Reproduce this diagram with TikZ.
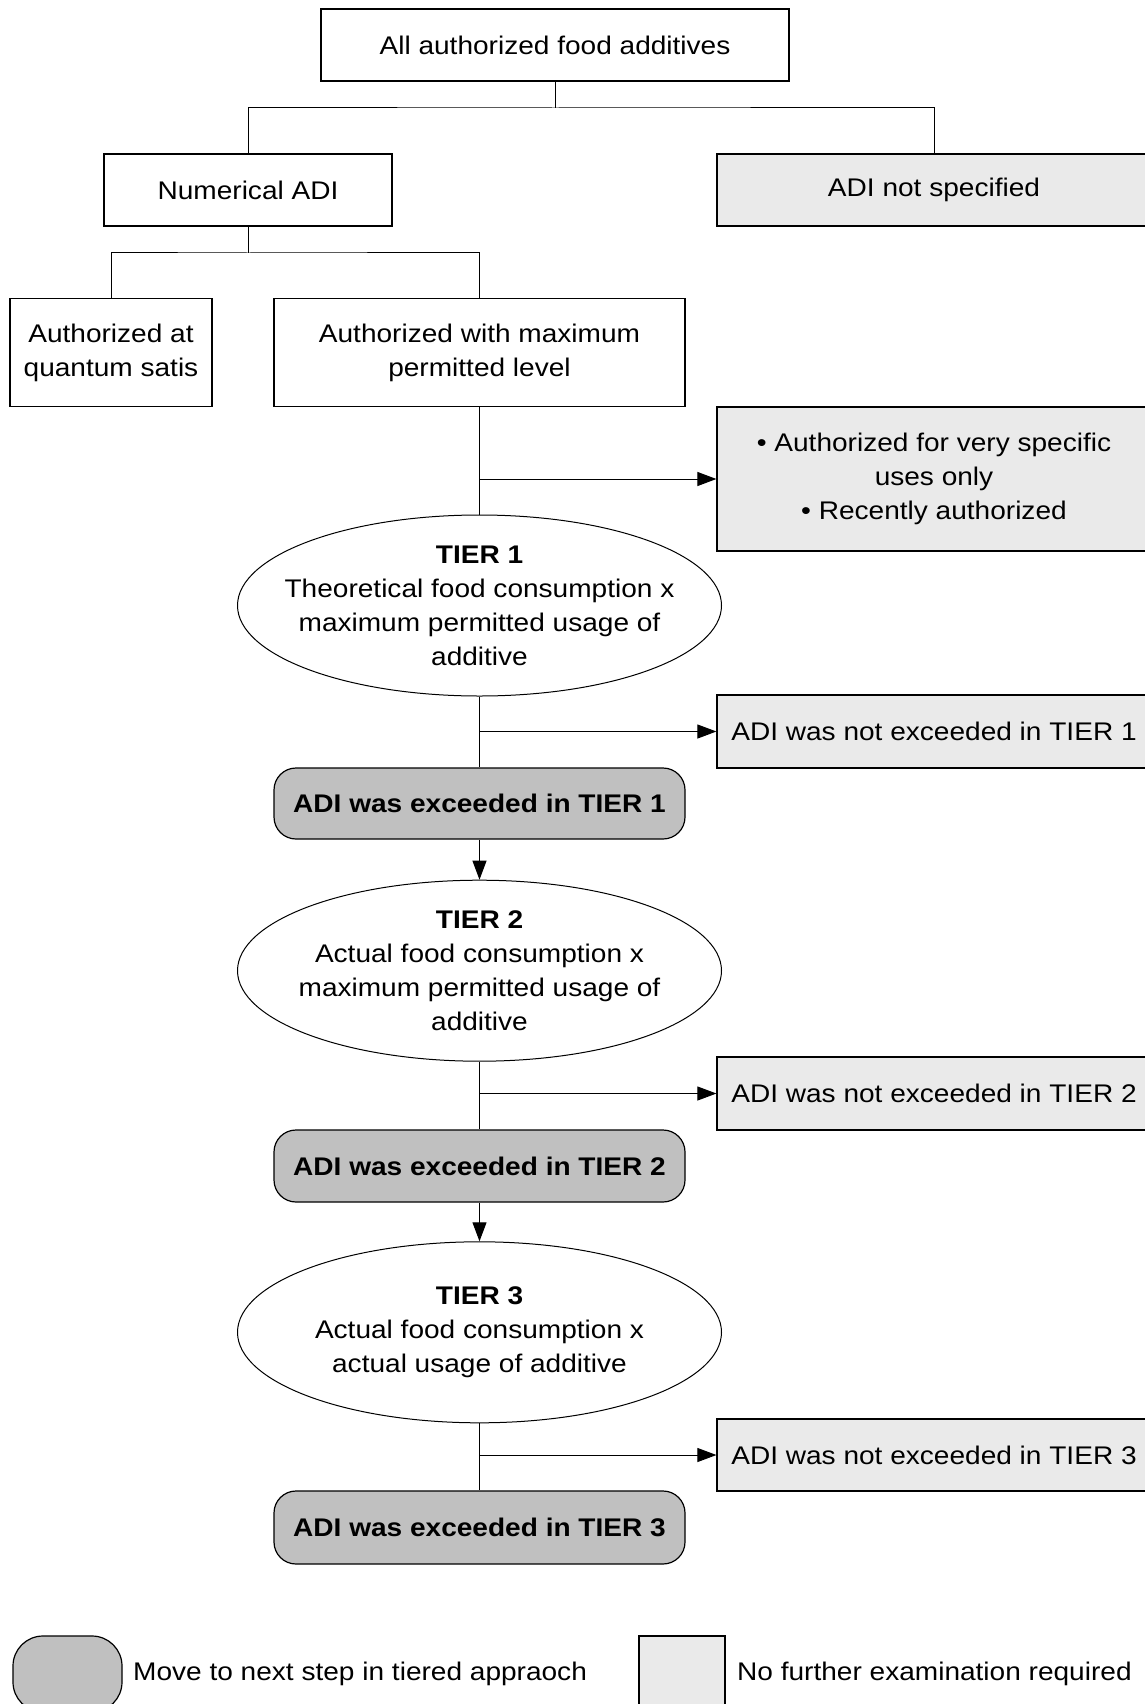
\documentclass[tikz,border=0pt]{standalone}
\usepackage{fontspec}
\setmainfont{Liberation Sans}[FakeStretch=1.1]
\usetikzlibrary{arrows.meta,shapes.geometric}
\definecolor{lightfill}{RGB}{234,234,234}
\definecolor{darkfill}{RGB}{192,192,192}
\begin{document}
\begin{tikzpicture}[x=1pt,y=-1pt,
  every node/.style={font=\fontsize{25.5}{34}\selectfont, align=center, inner sep=0pt},
  plain/.style={draw, line width=1.2pt, rectangle, fill=white},
  light/.style={draw, line width=1.2pt, rectangle, fill=lightfill},
  dark/.style={draw, line width=1.2pt, rectangle, fill=darkfill, rounded corners=22pt},
  tier/.style={draw, ellipse, line width=1pt, fill=white, minimum width=484pt, minimum height=181pt},
  conn/.style={line width=1pt},
  arr/.style={line width=1pt, -{Triangle[length=19pt,width=14pt]}}]
\useasboundingbox (0,0) rectangle (1144,1704);
\fill[white] (0,0) rectangle (1144,1704);

% nodes
\node[plain, minimum width=468pt, minimum height=72pt] (top) at (555,45) {All authorized food additives};
\node[plain, minimum width=288pt, minimum height=72pt] (num) at (248,190) {Numerical ADI};
\node[light, minimum width=434pt, minimum height=72pt] (nspec) at (934,190) {ADI not specified};
\node[plain, minimum width=202pt, minimum height=108pt] (qs) at (111,352.5) {Authorized at\\quantum satis};
\node[plain, minimum width=411pt, minimum height=108pt] (mpl) at (479.5,352.5) {Authorized with maximum\\permitted level};
\node[light, minimum width=434pt, minimum height=144pt] (spec) at (934,479) {• Authorized for very specific\\uses only\\• Recently authorized};

\node[tier] (t1) at (479.5,605.5) {};
\node (t1t) at (t1.center) {\textbf{TIER 1}\\Theoretical food consumption x\\maximum permitted usage of\\additive};
\node[light, minimum width=434pt, minimum height=73pt] (n1) at (934,731.5) {ADI was not exceeded in TIER 1};
\node[dark, minimum width=411pt, minimum height=71pt] (e1) at (479.5,803.5) {\textbf{ADI was exceeded in TIER 1}};

\node[tier] (t2) at (479.5,970.7) {};
\node (t2t) at (t2.center) {\textbf{TIER 2}\\Actual food consumption x\\maximum permitted usage of\\additive};
\node[light, minimum width=434pt, minimum height=73pt] (n2) at (934,1093.5) {ADI was not exceeded in TIER 2};
\node[dark, minimum width=411pt, minimum height=72pt] (e2) at (479.5,1166) {\textbf{ADI was exceeded in TIER 2}};

\node[tier] (t3) at (479.5,1332.3) {};
\node (t3t) at (t3.center) {\textbf{TIER 3}\\Actual food consumption x\\actual usage of additive};
\node[light, minimum width=434pt, minimum height=72pt] (n3) at (934,1455) {ADI was not exceeded in TIER 3};
\node[dark, minimum width=411pt, minimum height=73pt] (e3) at (479.5,1527.5) {\textbf{ADI was exceeded in TIER 3}};

% legend
\node[dark, rounded corners=30pt, minimum width=109pt, minimum height=76pt] (lg1) at (67.5,1674) {};
\node[anchor=west] (lg1t) at (133,1673.5) {Move to next step in tiered appraoch};
\node[light, minimum width=86pt, minimum height=76pt] (lg2) at (682,1674) {};
\node[anchor=west] (lg2t) at (737,1673.5) {No further examination required};

% connectors
\coordinate (b1) at (555,108);
\draw[conn] (top.south) -- (b1);
\draw[conn] (num.north) |- (b1) -| (nspec.north);
\coordinate (b2) at (248,253);
\draw[conn] (num.south) -- (b2);
\draw[conn] (qs.north) |- (b2) -| (mpl.north);

\draw[conn] (mpl.south) -- (t1.north);
\draw[arr] (mpl.south |- spec.west) -- (spec.west);
\draw[conn] (t1.south) -- (e1.north);
\draw[arr] (t1.south |- n1.west) -- (n1.west);
\draw[arr] (e1.south) -- (t2.north);
\draw[conn] (t2.south) -- (e2.north);
\draw[arr] (t2.south |- n2.west) -- (n2.west);
\draw[arr] (e2.south) -- (t3.north);
\draw[conn] (t3.south) -- (e3.north);
\draw[arr] (t3.south |- n3.west) -- (n3.west);
\end{tikzpicture}
\end{document}
